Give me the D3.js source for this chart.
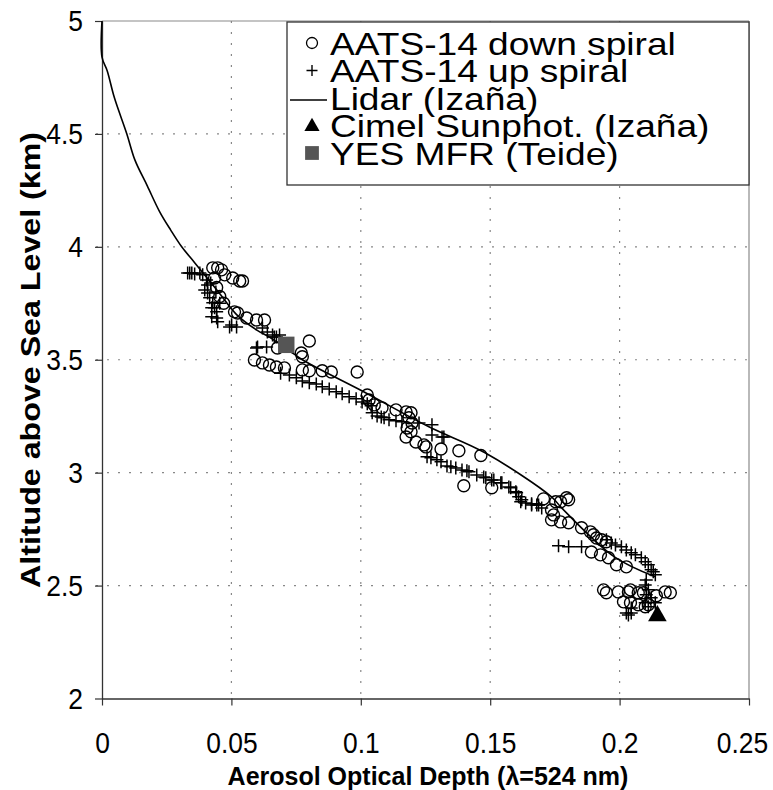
<!DOCTYPE html>
<html>
<head>
<meta charset="utf-8">
<script src="https://cdn.jsdelivr.net/npm/d3@7"></script>
<style>
  html, body { margin: 0; padding: 0; background: #fff; }
  svg { display: block; }
  text { font-family: "Liberation Sans", Arial, Helvetica, sans-serif; fill: #000; }
</style>
</head>
<body>
<svg id="chart" width="773" height="790"></svg>
<script>
// ---------------- data ----------------
const xTicks = [0, 0.05, 0.1, 0.15, 0.2, 0.25];
const xTickLabels = ["0", "0.05", "0.1", "0.15", "0.2", "0.25"];
const yTicks = [2, 2.5, 3, 3.5, 4, 4.5, 5];
const yTickLabels = ["2", "2.5", "3", "3.5", "4", "4.5", "5"];

const seriesNames = ["AATS-14 down spiral", "AATS-14 up spiral", "Lidar (Izaña)", "Cimel Sunphot. (Izaña)", "YES MFR (Teide)"];

// [AOD, altitude km]
const downSpiral = [
  [0.0428,3.907],[0.0447,3.907],[0.0462,3.898],[0.0474,3.876],[0.0505,3.862],[0.0532,3.849],[0.0543,3.849],[0.0435,3.862],
  [0.0443,3.820],[0.0455,3.780],[0.0470,3.750],
  [0.0512,3.712],[0.0524,3.707],[0.0559,3.685],[0.0597,3.676],[0.0628,3.676],
  [0.0678,3.552],[0.0770,3.530],[0.0774,3.513],[0.0801,3.583],
  [0.0589,3.499],[0.0620,3.486],[0.0647,3.477],[0.0674,3.468],[0.0705,3.464],
  [0.0774,3.455],[0.0801,3.451],[0.0851,3.451],[0.0886,3.446],[0.0986,3.446],
  [0.1025,3.344],[0.1032,3.322],[0.1052,3.300],[0.1082,3.287],[0.1136,3.278],[0.1175,3.269],[0.1194,3.265],
  [0.1186,3.243],[0.1198,3.220],[0.1179,3.198],[0.1194,3.181],[0.1175,3.158],[0.1213,3.136],[0.1244,3.123],
  [0.1252,3.114],[0.1310,3.105],[0.1379,3.097],[0.1464,3.076],
  [0.1398,2.942],[0.1506,2.933],
  [0.1706,2.884],[0.1753,2.871],[0.1795,2.889],[0.1803,2.880],[0.1772,2.871],
  [0.1737,2.835],[0.1745,2.813],[0.1737,2.791],[0.1772,2.782],[0.1803,2.778],[0.1853,2.756],[0.1887,2.738],
  [0.1899,2.725],[0.1911,2.711],[0.1930,2.703],[0.1949,2.694],
  [0.1891,2.649],[0.1926,2.636],[0.1957,2.623],[0.1988,2.592],[0.2026,2.583],
  [0.1938,2.481],[0.1949,2.468],[0.1995,2.472],[0.2034,2.472],[0.2042,2.481],[0.2072,2.468],[0.2092,2.468],
  [0.2015,2.428],[0.2042,2.424],[0.2072,2.415],[0.2099,2.406],[0.2111,2.415],
  [0.2176,2.472],[0.2196,2.468],[0.2142,2.455]
];

const upSpiral = [
  [0.0331,3.884],[0.0339,3.884],[0.0347,3.884],[0.0358,3.880],[0.0378,3.884],[0.0389,3.876],[0.0404,3.853],
  [0.0408,3.831],[0.0397,3.809],[0.0408,3.796],[0.0416,3.774],[0.0428,3.752],[0.0424,3.730],[0.0435,3.730],
  [0.0443,3.712],[0.0424,3.690],[0.0443,3.685],[0.0447,3.668],[0.0455,3.750],[0.0440,3.800],[0.0420,3.840],
  [0.0501,3.654],[0.0520,3.645],[0.0493,3.645],[0.0620,3.641],[0.0639,3.623],[0.0659,3.610],[0.0674,3.601],
  [0.0686,3.610],[0.0597,3.552],[0.0601,3.557],[0.0636,3.557],[0.0666,3.601],
  [0.0690,3.440],[0.0724,3.433],[0.0751,3.420],[0.0774,3.406],[0.0801,3.398],[0.0828,3.393],[0.0851,3.380],
  [0.0878,3.371],[0.0905,3.358],[0.0928,3.349],[0.0955,3.336],[0.0982,3.327],[0.1005,3.313],[0.1025,3.305],[0.1040,3.296],
  [0.1044,3.265],[0.1063,3.251],[0.1079,3.247],[0.1090,3.243],[0.1109,3.234],[0.1136,3.230],[0.1159,3.225],
  [0.1225,3.220],[0.1275,3.212],[0.1275,3.167],[0.1314,3.158],[0.1321,3.158],
  [0.1256,3.070],[0.1271,3.066],[0.1294,3.057],[0.1310,3.048],[0.1333,3.030],[0.1348,3.026],[0.1367,3.021],
  [0.1391,3.012],[0.1410,3.008],[0.1418,3.004],[0.1448,2.990],[0.1475,2.981],[0.1483,2.977],[0.1506,2.968],
  [0.1514,2.968],[0.1541,2.955],[0.1545,2.955],[0.1572,2.937],[0.1579,2.933],[0.1599,2.915],[0.1602,2.911],
  [0.1610,2.893],[0.1618,2.871],[0.1622,2.880],[0.1637,2.866],[0.1660,2.857],[0.1680,2.857],[0.1687,2.857],
  [0.1660,2.862],[0.1699,2.844],
  [0.1764,2.676],[0.1803,2.672],[0.1853,2.672],
  [0.1949,2.703],[0.1968,2.689],[0.1984,2.680],[0.2007,2.672],[0.2026,2.658],[0.2045,2.645],[0.2061,2.636],
  [0.2084,2.623],[0.2099,2.605],[0.2111,2.592],[0.2122,2.570],[0.2138,2.548],[0.2130,2.561],
  [0.2103,2.525],[0.2099,2.503],[0.2111,2.481],[0.2103,2.459],[0.2122,2.446],[0.2138,2.424],[0.2111,2.406],
  [0.2099,2.424],[0.2045,2.401],[0.2026,2.379],[0.2034,2.370],[0.2045,2.379]
];

const lidarAOD = [0, 0, 0.002, 0.0048, 0.0096, 0.0127, 0.0175, 0.0223, 0.0265, 0.0308, 0.0358, 0.045, 0.052, 0.060, 0.0647, 0.0724, 0.0774, 0.102, 0.1263, 0.148, 0.1737, 0.1776, 0.198, 0.2138];
const lidarAlt = [5, 4.84, 4.78, 4.66, 4.5, 4.385, 4.27, 4.155, 4.075, 4.0, 3.93, 3.80, 3.70, 3.63, 3.60, 3.54, 3.50, 3.353, 3.203, 3.088, 2.893, 2.844, 2.627, 2.539];

const cimel = [[0.2146, 2.366]];
const yesMFR = [[0.0712, 3.566]];

// ---------------- layout ----------------
const svg = d3.select("#chart");
const x = d3.scaleLinear().domain([0, 0.25]).range([102, 749]);
const y = d3.scaleLinear().domain([2, 5]).range([698.5, 21]);

// frame (top & right)
svg.append("line").attr("x1", x(0)).attr("x2", x(0.25)).attr("y1", y(5)).attr("y2", y(5))
  .attr("stroke", "#8a8a8a").attr("stroke-width", 1.2);
svg.append("line").attr("x1", x(0.25)).attr("x2", x(0.25)).attr("y1", y(5)).attr("y2", y(2))
  .attr("stroke", "#8a8a8a").attr("stroke-width", 1.2);

// gridlines
const grid = svg.append("g").attr("stroke", "#888").attr("stroke-width", 1.2).attr("stroke-dasharray", "2,9");
grid.selectAll("line.v").data(xTicks.filter(d => d > 0 && d < 0.25)).join("line")
  .attr("x1", d => x(d)).attr("x2", d => x(d)).attr("y1", y(5)).attr("y2", y(2));
grid.selectAll("line.h").data(yTicks.filter(d => d > 2 && d < 5)).join("line")
  .attr("x1", x(0) - 6).attr("x2", x(0.25)).attr("y1", d => y(d)).attr("y2", d => y(d));

// axes
const xAxis = d3.axisBottom(x).tickValues(xTicks).tickFormat((d, i) => xTickLabels[i]).tickSizeInner(7).tickSizeOuter(0).tickPadding(26);
const yAxis = d3.axisLeft(y).tickValues(yTicks).tickFormat((d, i) => yTickLabels[i]).tickSizeInner(7).tickSizeOuter(0).tickPadding(12);

const gx = svg.append("g").attr("transform", `translate(0,${y(2)})`).call(xAxis);
const gy = svg.append("g").attr("transform", `translate(${x(0)},0)`).call(yAxis);
const sx = 0.88;
[gx, gy].forEach(g => {
  g.select(".domain").attr("stroke", "#333").attr("stroke-width", 1.3);
  g.selectAll(".tick line").attr("stroke", "#333").attr("stroke-width", 1.2);
  g.selectAll(".tick text").attr("font-size", 30).attr("font-family", "Liberation Sans, Arial, sans-serif").attr("fill", "#000");
});
gx.selectAll(".tick text")
  .attr("x", d => (d === 0.25 ? -7 : 0) / sx)
  .attr("transform", `scale(${sx},1)`);
gy.selectAll(".tick text").attr("x", -19 / sx).attr("transform", `scale(${sx},1)`);

// axis titles
svg.append("text").attr("x", 428).attr("y", 785).attr("text-anchor", "middle")
  .attr("font-size", 25).attr("font-weight", "bold").text("Aerosol Optical Depth (λ=524 nm)");
svg.append("text").attr("transform", "translate(40,360) rotate(-90)").attr("text-anchor", "middle")
  .attr("font-size", 27).attr("font-weight", "bold")
  .attr("textLength", 456).attr("lengthAdjust", "spacingAndGlyphs")
  .text("Altitude above Sea Level (km)");

// lidar line
const lidar = lidarAOD.map((d, i) => [d, lidarAlt[i]]);
svg.append("path").datum(lidar)
  .attr("fill", "none").attr("stroke", "#000").attr("stroke-width", 1.6)
  .attr("d", d3.line().x(d => x(d[0])).y(d => y(d[1])).curve(d3.curveCatmullRom));

// down spiral circles
svg.append("g").selectAll("circle").data(downSpiral).join("circle")
  .attr("cx", d => x(d[0])).attr("cy", d => y(d[1])).attr("r", 6)
  .attr("fill", "none").attr("stroke", "#000").attr("stroke-width", 1.4);

// up spiral plus
svg.append("g").selectAll("path").data(upSpiral).join("path")
  .attr("transform", d => `translate(${x(d[0])},${y(d[1])})`)
  .attr("d", "M-6.5,0H6.5M0,-6.5V6.5")
  .attr("stroke", "#000").attr("stroke-width", 1.5).attr("fill", "none");

// YES MFR square
svg.append("g").selectAll("path").data(yesMFR).join("path")
  .attr("transform", d => `translate(${x(d[0])},${y(d[1])})`)
  .attr("d", d3.symbol().type(d3.symbolSquare).size(270)())
  .attr("fill", "#555");

// Cimel triangle
svg.append("g").selectAll("path").data(cimel).join("path")
  .attr("transform", d => `translate(${x(d[0])},${y(d[1])})`)
  .attr("d", d3.symbol().type(d3.symbolTriangle).size(150)())
  .attr("fill", "#000");

// legend
const lg = svg.append("g");
lg.append("rect").attr("x", 287).attr("y", 22).attr("width", 462).attr("height", 163)
  .attr("fill", "#fff").attr("stroke", "#333").attr("stroke-width", 1.3);
const rowY = i => 43 + i * 27.5;
const textX = 330, symX = 312;
const lsx = 1.16;
seriesNames.forEach((name, i) => {
  lg.append("text").attr("x", textX / lsx).attr("y", rowY(i)).attr("dy", "0.36em")
    .attr("transform", `scale(${lsx},1)`)
    .attr("font-size", 32).text(name);
});
lg.append("circle").attr("cx", symX).attr("cy", rowY(0)).attr("r", 5.5).attr("fill", "none").attr("stroke", "#000").attr("stroke-width", 1.3);
lg.append("path").attr("transform", `translate(${symX},${rowY(1)})`).attr("d", "M-5.5,0H5.5M0,-5.5V5.5").attr("stroke", "#000").attr("stroke-width", 1.4);
lg.append("line").attr("x1", 290).attr("x2", textX - 3).attr("y1", rowY(2) + 2).attr("y2", rowY(2) + 2).attr("stroke", "#000").attr("stroke-width", 1.4);
lg.append("path").attr("transform", `translate(${symX},${rowY(3) + 1})`).attr("d", d3.symbol().type(d3.symbolTriangle).size(100)()).attr("fill", "#000");
lg.append("path").attr("transform", `translate(${symX},${rowY(4)})`).attr("d", d3.symbol().type(d3.symbolSquare).size(190)()).attr("fill", "#555");
</script>
</body>
</html>
